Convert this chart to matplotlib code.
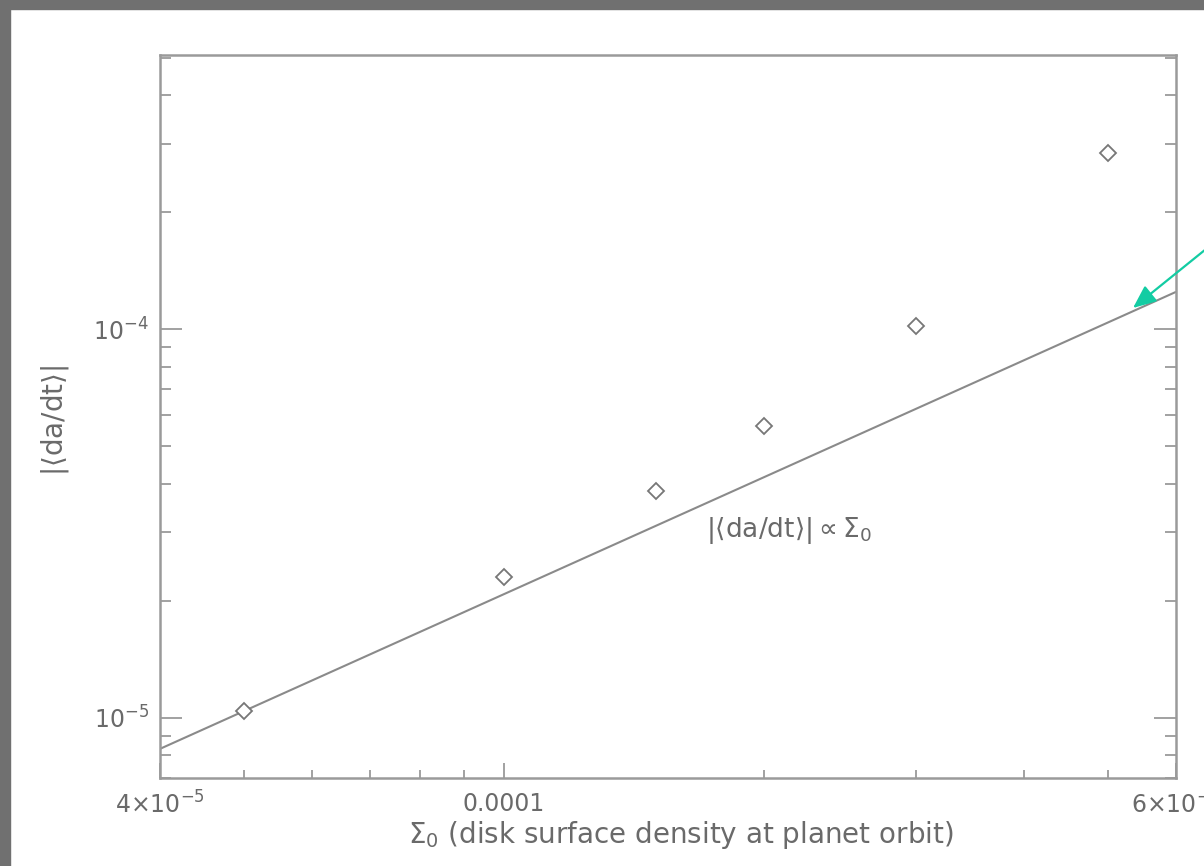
import matplotlib
matplotlib.use("Agg")
import matplotlib.pyplot as plt
import matplotlib.ticker as mticker
from matplotlib.patches import Rectangle
import numpy as np

# Migration rate vs. disk surface density ==============================
sigma0 = [5e-5, 1e-4, 1.5e-4, 2e-4, 3e-4, 5e-4]
dadt = [1.04e-5, 2.30e-5, 3.84e-5, 5.64e-5, 1.021e-4, 2.85e-4]

xmajor = [4e-5, 1e-4, 6e-4]
xmajor_labels = [r"4$\times$10$^{-5}$", "0.0001", r"6$\times$10$^{-4}$"]
xminor = [5e-5, 6e-5, 7e-5, 8e-5, 9e-5, 2e-4, 3e-4, 4e-4, 5e-4]
ymajor = [1e-5, 1e-4]
ymajor_labels = [r"10$^{-5}$", r"10$^{-4}$"]
yminor = [7e-6, 8e-6, 9e-6, 2e-5, 3e-5, 4e-5, 5e-5, 6e-5, 7e-5, 8e-5, 9e-5,
          2e-4, 3e-4, 4e-4, 5e-4]

ink = "#6a6a6a"
axcol = "#9a9a9a"
plt.rcParams["font.family"] = ["DejaVu Sans"]
plt.rcParams["mathtext.fontset"] = "dejavusans"

fig = plt.figure(figsize=(12.04, 8.66), dpi=100)
fig.patch.set_facecolor("white")
# dark frame along the left and top edges
fig.patches.append(Rectangle((0, 0), 10 / 1204, 1, transform=fig.transFigure,
                             color="#707070", zorder=0))
fig.patches.append(Rectangle((0, 1 - 9 / 866), 1, 9 / 866, transform=fig.transFigure,
                             color="#707070", zorder=0))

ax = fig.add_axes([160 / 1204, 88 / 866, 1016 / 1204, 723 / 866])
ax.set_xscale("log")
ax.set_yscale("log")
ax.set_xlim(4e-5, 6e-4)
ax.set_ylim(7e-6, 5.08e-4)

# linear scaling through the lowest-density run
xs = np.array([4e-5, 6e-4])
coef = dadt[0] / sigma0[0]
ax.plot(xs, coef * xs, color="#8a8a8a", lw=1.5, solid_capstyle="butt")
ax.plot(sigma0, dadt, linestyle="none", marker="D", markersize=8,
        markerfacecolor="white", markeredgecolor="#777777", markeredgewidth=1.3)

ax.text(1.713e-4, 3.04e-5, r"$|\langle \mathrm{da/dt} \rangle| \propto \Sigma_0$",
        fontsize=19, color=ink, ha="left", va="center")

ax.xaxis.set_major_locator(mticker.FixedLocator(xmajor))
ax.xaxis.set_major_formatter(mticker.FixedFormatter(xmajor_labels))
ax.xaxis.set_minor_locator(mticker.FixedLocator(xminor))
ax.xaxis.set_minor_formatter(mticker.NullFormatter())
ax.yaxis.set_major_locator(mticker.FixedLocator(ymajor))
ax.yaxis.set_major_formatter(mticker.FixedFormatter(ymajor_labels))
ax.yaxis.set_minor_locator(mticker.FixedLocator(yminor))
ax.yaxis.set_minor_formatter(mticker.NullFormatter())

ax.tick_params(axis="both", which="both", direction="in", top=False, right=True,
               color=axcol, width=1.3, labelcolor=ink, labelsize=17)
ax.tick_params(axis="x", which="major", length=11, pad=10)
ax.tick_params(axis="x", which="minor", length=6)
ax.tick_params(axis="y", which="major", length=16, pad=8)
ax.tick_params(axis="y", which="minor", length=8)
for s in ax.spines.values():
    s.set_color(axcol)
    s.set_linewidth(1.8)

fig.text(681 / 1204, 1 - 835 / 866, r"$\Sigma_0$ (disk surface density at planet orbit)",
         fontsize=20, color=ink, ha="center", va="center")
fig.text(55 / 1204, 1 - 420 / 866, r"$|\langle \mathrm{da/dt} \rangle|$",
         fontsize=20, color=ink, ha="center", va="center", rotation=90)

# highlight arrow pointing at the fitted line
ax.annotate("", xy=(1133, 866 - 308), xycoords="figure pixels",
            xytext=(1216, 866 - 241), textcoords="figure pixels",
            annotation_clip=False,
            arrowprops=dict(arrowstyle="-|>,head_length=1.4,head_width=0.6",
                            color="#13cca3", lw=1.6, shrinkA=0, shrinkB=0))

fig.savefig("out.png", dpi=100, facecolor=fig.get_facecolor())
